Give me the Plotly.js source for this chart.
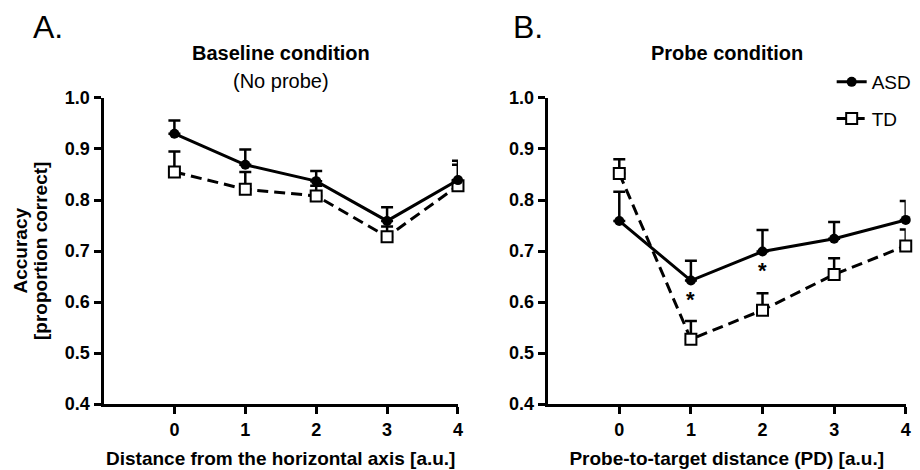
<!DOCTYPE html>
<html>
<head>
<meta charset="utf-8">
<script src="https://cdn.plot.ly/plotly-3.0.1.min.js"></script>
<style>html,body{margin:0;padding:0;background:#fff;}#chart{width:920px;height:470px;}</style>
</head>
<body>
<div id="chart"></div>
<script>
// ---- data ----
const xValues = [0, 1, 2, 3, 4];
const xTickLabels = ["0", "1", "2", "3", "4"];
const yTickValues = [0.4, 0.5, 0.6, 0.7, 0.8, 0.9, 1.0];

// Panel A: Baseline condition
const asdBaseline = [0.930, 0.869, 0.837, 0.759, 0.839];
const asdBaselineErr = [0.026, 0.030, 0.020, 0.027, 0.030];
const tdBaseline = [0.855, 0.821, 0.808, 0.728, 0.828];
const tdBaselineErr = [0.040, 0.034, 0.020, 0.020, 0.049];

// Panel B: Probe condition
const asdProbe = [0.759, 0.642, 0.699, 0.724, 0.761];
const asdProbeErr = [0.057, 0.039, 0.042, 0.033, 0.037];
const tdProbe = [0.852, 0.527, 0.584, 0.654, 0.710];
const tdProbeErr = [0.028, 0.036, 0.033, 0.032, 0.032];

// significance markers (panel B)
const sigX = [1, 2];
const sigY = [0.605, 0.661];
const sigLabel = "*";

const zeros = xValues.map(() => 0);
const FONT = "Liberation Sans, Arial, Helvetica, sans-serif";

function errBar(arr) {
  return {type: "data", symmetric: false, array: arr, arrayminus: zeros,
          color: "#000", thickness: 2.5, width: 6};
}
function asdTrace(y, err, xa, ya, show) {
  return {x: xValues, y: y, xaxis: xa, yaxis: ya, name: "ASD", legendgroup: "asd",
    showlegend: show, mode: "lines+markers", cliponaxis: false,
    line: {color: "#000", width: 3},
    marker: {symbol: "circle", size: 10, color: "#000"},
    error_y: errBar(err)};
}
function tdTrace(y, err, xa, ya, show) {
  return {x: xValues, y: y, xaxis: xa, yaxis: ya, name: "TD", legendgroup: "td",
    showlegend: show, mode: "lines+markers", cliponaxis: false,
    line: {color: "#000", width: 3, dash: "11px,6px"},
    marker: {symbol: "square", size: 11, color: "#fff", line: {color: "#000", width: 2}},
    error_y: errBar(err)};
}

const data = [
  tdTrace(tdBaseline, tdBaselineErr, "x", "y", false),
  asdTrace(asdBaseline, asdBaselineErr, "x", "y", false),
  asdTrace(asdProbe, asdProbeErr, "x2", "y2", true),
  tdTrace(tdProbe, tdProbeErr, "x2", "y2", true)
];

function xAxis(domain, title, anchor) {
  return {domain: domain, anchor: anchor, range: [-1, 4], tickvals: xValues, ticktext: xTickLabels,
    showline: true, linewidth: 3, linecolor: "#000", ticks: "outside", ticklen: 7, tickwidth: 3,
    tickcolor: "#000", showgrid: false, zeroline: false, fixedrange: true,
    tickfont: {family: FONT, size: 18, color: "#000", weight: "bold"},
    title: {text: "<b>" + title + "</b>", font: {family: FONT, size: 19, color: "#000"}, standoff: 14}};
}
function yAxis(anchor) {
  return {domain: [0.1404, 0.7915], anchor: anchor, range: [0.4, 1.0], tickvals: yTickValues,
    tickformat: ".1f",
    showline: true, linewidth: 3, linecolor: "#000", ticks: "outside", ticklen: 7, tickwidth: 3,
    tickcolor: "#000", showgrid: false, zeroline: false, fixedrange: true,
    tickfont: {family: FONT, size: 18, color: "#000", weight: "bold"}};
}

const annotations = [
  {text: "A.", x: 31, y: 27},
  {text: "B.", x: 511, y: 27}
].map(a => ({text: a.text, xref: "paper", yref: "paper", x: a.x / 920, y: 1 - a.y / 470,
  xanchor: "left", yanchor: "middle", showarrow: false, font: {family: FONT, size: 32, color: "#000"}}));

annotations.push(
  {text: "<b>Baseline condition</b>", xref: "x domain", yref: "paper", x: 0.5, y: 1 - 53 / 470,
   xanchor: "center", yanchor: "middle", showarrow: false, font: {family: FONT, size: 20, color: "#000"}},
  {text: "(No probe)", xref: "x domain", yref: "paper", x: 0.5, y: 1 - 81 / 470,
   xanchor: "center", yanchor: "middle", showarrow: false, font: {family: FONT, size: 20, color: "#000"}},
  {text: "<b>Probe condition</b>", xref: "x2 domain", yref: "paper", x: 0.5, y: 1 - 53 / 470,
   xanchor: "center", yanchor: "middle", showarrow: false, font: {family: FONT, size: 20, color: "#000"}},
  {text: "<b>Accuracy</b>", xref: "paper", yref: "y domain", x: 20.5 / 920, y: 0.5, textangle: -90,
   xanchor: "center", yanchor: "middle", showarrow: false, font: {family: FONT, size: 19, color: "#000"}},
  {text: "<b>[proportion correct]</b>", xref: "paper", yref: "y domain", x: 40 / 920, y: 0.5, textangle: -90,
   xanchor: "center", yanchor: "middle", showarrow: false, font: {family: FONT, size: 19, color: "#000"}}
);
sigX.forEach((sx, i) => annotations.push({text: "<b>" + sigLabel + "</b>", x: sx, y: sigY[i], xref: "x2", yref: "y2",
  xanchor: "center", yanchor: "middle", showarrow: false, font: {family: FONT, size: 22, color: "#000"}}));

const layout = {
  width: 920, height: 470,
  margin: {l: 0, r: 0, t: 0, b: 0},
  paper_bgcolor: "#fff", plot_bgcolor: "#fff",
  font: {family: FONT, color: "#000"},
  xaxis: xAxis([0.1125, 0.4978], "Distance from the horizontal axis [a.u.]", "y"),
  yaxis: yAxis("x"),
  xaxis2: xAxis([0.5953, 0.9845], "Probe-to-target distance (PD) [a.u.]", "y2"),
  yaxis2: yAxis("x2"),
  showlegend: true,
  legend: {x: 0.904, y: 1 - 63 / 470, xanchor: "left", yanchor: "top", bgcolor: "rgba(0,0,0,0)",
    font: {family: FONT, size: 19, color: "#000"}, itemwidth: 30, tracegroupgap: 9},
  annotations: annotations
};

Plotly.newPlot("chart", data, layout, {displayModeBar: false, staticPlot: true});
</script>
</body>
</html>
